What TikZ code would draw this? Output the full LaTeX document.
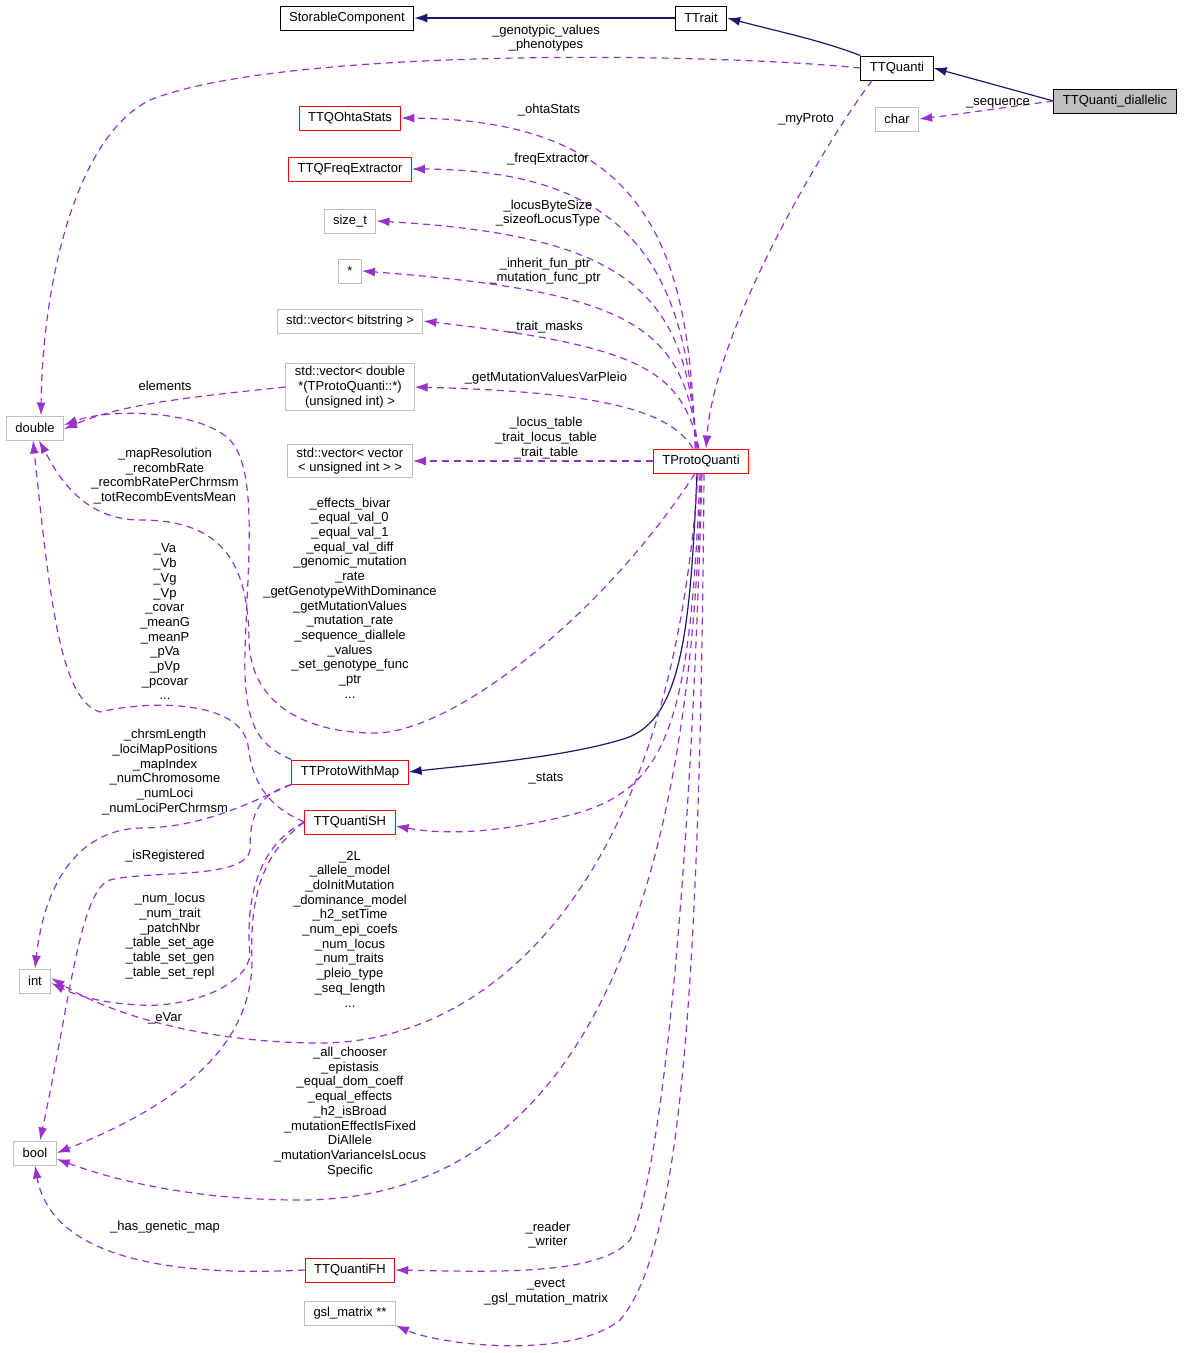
\documentclass[tikz,border=0pt]{standalone}
\usepackage{fontspec}
\setmainfont{Liberation Sans}
\usetikzlibrary{arrows.meta, positioning}
\definecolor{navy}{RGB}{25,25,112}
\definecolor{orchid}{RGB}{153,50,204}
\definecolor{boxgrey}{RGB}{191,191,191}
\tikzset{
    box/.style={draw=black, line width=1pt, minimum height=24pt, inner xsep=9pt,
        inner ysep=3pt, font=\fontsize{13}{14.7}\selectfont, align=center, fill=white},
    redbox/.style={box, draw=red},
    greybox/.style={box, draw=boxgrey},
    lbl/.style={font=\fontsize{13}{14.7}\selectfont, align=center, inner sep=0pt},
    inh/.style={draw=navy, line width=1.2pt, -{Latex[length=13pt, width=9pt]}},
    use/.style={draw=orchid, line width=1.2pt, dash pattern=on 7pt off 5pt,
        -{Latex[length=13pt, width=9pt]}}
}

\begin{document}
\begin{tikzpicture}[x=1pt, y=-1pt]
        \useasboundingbox (0, 0) rectangle (1184, 1353);
        % boxes
        \node[box] (storable) at (347, 18) {StorableComponent};
        \node[box] (ttrait) at (701, 18) {TTrait};
        \node[box] (ttq) at (897, 68) {TTQuanti};
        \node[box, fill=boxgrey] (diall) at (1115, 101) {TTQuanti\_diallelic};
        \node[greybox] (char) at (897, 119) {char};
        \node[redbox] (ohta) at (350, 118) {TTQOhtaStats};
        \node[redbox] (freq) at (350, 169) {TTQFreqExtractor};
        \node[greybox] (sizet) at (350, 221) {size\_t};
        \node[greybox] (star) at (350, 271) {*};
        \node[greybox] (bitstr) at (350, 321) {std::vector\textless{} bitstring \textgreater};
        \node[greybox] (vecdbl) at (350, 387) {std::vector\textless{} double\\*(TProtoQuanti::*)\\(unsigned int) \textgreater};
        \node[greybox] (dbl) at (35, 428) {double};
        \node[greybox] (vecvec) at (350, 461) {std::vector\textless{} vector\\\textless{} unsigned int \textgreater{} \textgreater};
        \node[redbox] (tpq) at (701, 461) {TProtoQuanti};
        \node[redbox] (pwm) at (350, 772) {TTProtoWithMap};
        \node[redbox] (qsh) at (350, 822) {TTQuantiSH};
        \node[greybox] (int) at (35, 981) {int};
        \node[greybox] (bool) at (35, 1153) {bool};
        \node[redbox] (qfh) at (350, 1270) {TTQuantiFH};
        \node[greybox] (gsl) at (350, 1313) {gsl\_matrix **};

        % inheritance
        \draw[inh] (ttrait) -- (storable);
        \draw[inh] (ttq.north west) .. controls (820, 40) and (780, 32) .. (ttrait.east);
        \draw[inh] (diall.west) -- (ttq.east);
        \draw[inh] ([xshift=-4pt]tpq.south) .. controls (690, 640) and (680, 725) .. (620, 740)
            .. controls (560, 758) and (460, 766) .. (pwm.east);

        % members, top right
        \draw[use] (diall.west) .. controls (1000, 108) and (960, 114) .. (char.east);
        \draw[use] (ttq.west) .. controls (700, 52) and (280, 48) .. (150, 100)
            .. controls (70, 140) and (42, 300) .. ([xshift=6pt]dbl.north);
        \draw[use] ([xshift=-25pt]ttq.south) .. controls (820, 150) and (715, 330) .. ([xshift=5pt]tpq.north);

        % members of TProtoQuanti, left column
        \draw[use] ([xshift=-6pt]tpq.north) .. controls (690, 250) and (650, 120) .. (ohta.east);
        \draw[use] ([xshift=-5pt]tpq.north) .. controls (688, 280) and (640, 170) .. (freq.east);
        \draw[use] ([xshift=-4pt]tpq.north) .. controls (686, 300) and (640, 236) .. (sizet.east);
        \draw[use] ([xshift=-3pt]tpq.north) .. controls (684, 330) and (640, 292) .. (star.east);
        \draw[use] ([xshift=-2pt]tpq.north) .. controls (682, 370) and (640, 346) .. (bitstr.east);
        \draw[use] ([xshift=-8pt]tpq.north) .. controls (670, 410) and (600, 392) .. (vecdbl.east);
        \draw[use] (tpq.west) -- (vecvec.east);
        \draw[use] (vecdbl.west) .. controls (180, 398) and (120, 405) .. ([yshift=-1pt]dbl.east);

        % towards double
        \draw[use] ([xshift=-6pt]tpq.south) .. controls (600, 620) and (450, 733) .. (375, 733)
            .. controls (300, 733) and (250, 700) .. (249, 640)
            .. controls (248, 560) and (220, 520) .. (140, 520)
            .. controls (80, 520) and (55, 470) .. ([xshift=4pt]dbl.south);
        \draw[use] (pwm.north west) .. controls (258, 745) and (243, 725) .. (245, 650)
            .. controls (248, 560) and (258, 470) .. (230, 440)
            .. controls (200, 410) and (110, 408) .. ([yshift=3pt]dbl.east);
        \draw[use] (qsh.west) .. controls (265, 805) and (252, 780) .. (248, 745)
            .. controls (240, 700) and (150, 700) .. (100, 712)
            .. controls (60, 700) and (50, 600) .. ([xshift=-2pt]dbl.south);

        % towards int
        \draw[use] (pwm.south west) .. controls (245, 805) and (200, 828) .. (140, 828)
            .. controls (80, 830) and (45, 880) .. (int.north);
        \draw[use] (qsh.west) .. controls (258, 845) and (245, 900) .. (250, 955)
            .. controls (245, 990) and (180, 1008) .. (140, 1005)
            .. controls (100, 1003) and (75, 995) .. ([yshift=-2pt]int.east);
        \draw[use] ([xshift=-3pt]tpq.south) .. controls (670, 900) and (480, 1043) .. (320, 1043)
            .. controls (220, 1043) and (120, 1020) .. ([yshift=3pt]int.east);

        % towards bool
        \draw[use] (pwm.south west) .. controls (255, 795) and (250, 820) .. (250, 850)
            .. controls (245, 880) and (150, 870) .. (110, 880)
            .. controls (80, 890) and (70, 1000) .. ([xshift=5pt]bool.north);
        \draw[use] (qsh.west) .. controls (260, 855) and (250, 900) .. (252, 960)
            .. controls (252, 1040) and (190, 1100) .. (bool.east);
        \draw[use] (tpq.south) .. controls (690, 950) and (560, 1200) .. (300, 1200)
            .. controls (180, 1200) and (100, 1175) .. ([yshift=-6pt]bool.east);
        \draw[use] (qfh.west) .. controls (150, 1278) and (50, 1250) .. (bool.south);

        % bottom
        \draw[use] ([xshift=-1pt]tpq.south) .. controls (690, 720) and (670, 790) .. (570, 815)
            .. controls (490, 835) and (440, 834) .. ([yshift=-4pt]qsh.east);
        \draw[use] ([xshift=1pt]tpq.south) .. controls (690, 900) and (660, 1180) .. (630, 1240)
            .. controls (600, 1275) and (500, 1272) .. (qfh.east);
        \draw[use] ([xshift=3pt]tpq.south) .. controls (700, 1000) and (680, 1250) .. (620, 1320)
            .. controls (570, 1360) and (440, 1345) .. (gsl.south east);

        % labels
        \node[lbl] (lSeq) at (998, 103) {\_sequence};
        \node[lbl] (lGeno) at (546, 38) {\_genotypic\_values\\\_phenotypes};
        \node[lbl] (lProto) at (806, 119) {\_myProto};
        \node[lbl] (lOhta) at (549, 110) {\_ohtaStats};
        \node[lbl] (lFreq) at (548, 159) {\_freqExtractor};
        \node[lbl] (lLocus) at (548, 213) {\_locusByteSize\\\_sizeofLocusType};
        \node[lbl] (lFun) at (545, 271) {\_inherit\_fun\_ptr\\\_mutation\_func\_ptr};
        \node[lbl] (lMasks) at (546, 327) {\_trait\_masks};
        \node[lbl] (lPleio) at (546, 378) {\_getMutationValuesVarPleio};
        \node[lbl] (lTable) at (546, 438) {\_locus\_table\\\_trait\_locus\_table\\\_trait\_table};
        \node[lbl] (lElem) at (165, 386) {elements};
        \node[lbl] (lMap) at (165, 476) {\_mapResolution\\\_recombRate\\\_recombRatePerChrmsm\\\_totRecombEventsMean};
        \node[lbl] (lEff) at (350, 598) {\_effects\_bivar\\\_equal\_val\_0\\\_equal\_val\_1\\\_equal\_val\_diff\\\_genomic\_mutation\\\_rate\\\_getGenotypeWithDominance\\\_getMutationValues\\\_mutation\_rate\\\_sequence\_diallele\\\_values\\\_set\_genotype\_func\\\_ptr\\...};
        \node[lbl] (lVa) at (165, 622) {\_Va\\\_Vb\\\_Vg\\\_Vp\\\_covar\\\_meanG\\\_meanP\\\_pVa\\\_pVp\\\_pcovar\\...};
        \node[lbl] (lChrsm) at (165, 772) {\_chrsmLength\\\_lociMapPositions\\\_mapIndex\\\_numChromosome\\\_numLoci\\\_numLociPerChrmsm};
        \node[lbl] (lStats) at (546, 779) {\_stats};
        \node[lbl] (lReg) at (165, 856) {\_isRegistered};
        \node[lbl] (lNum) at (170, 936) {\_num\_locus\\\_num\_trait\\\_patchNbr\\\_table\_set\_age\\\_table\_set\_gen\\\_table\_set\_repl};
        \node[lbl] (l2L) at (350, 929) {\_2L\\\_allele\_model\\\_doInitMutation\\\_dominance\_model\\\_h2\_setTime\\\_num\_epi\_coefs\\\_num\_locus\\\_num\_traits\\\_pleio\_type\\\_seq\_length\\...};
        \node[lbl] (lEVar) at (165, 1018) {\_eVar};
        \node[lbl] (lAll) at (350, 1112) {\_all\_chooser\\\_epistasis\\\_equal\_dom\_coeff\\\_equal\_effects\\\_h2\_isBroad\\\_mutationEffectIsFixed\\DiAllele\\\_mutationVarianceIsLocus\\Specific};
        \node[lbl] (lGen) at (165, 1227) {\_has\_genetic\_map};
        \node[lbl] (lRead) at (548, 1235) {\_reader\\\_writer};
        \node[lbl] (lEvect) at (546, 1292) {\_evect\\\_gsl\_mutation\_matrix};
    \end{tikzpicture}
\end{document}
